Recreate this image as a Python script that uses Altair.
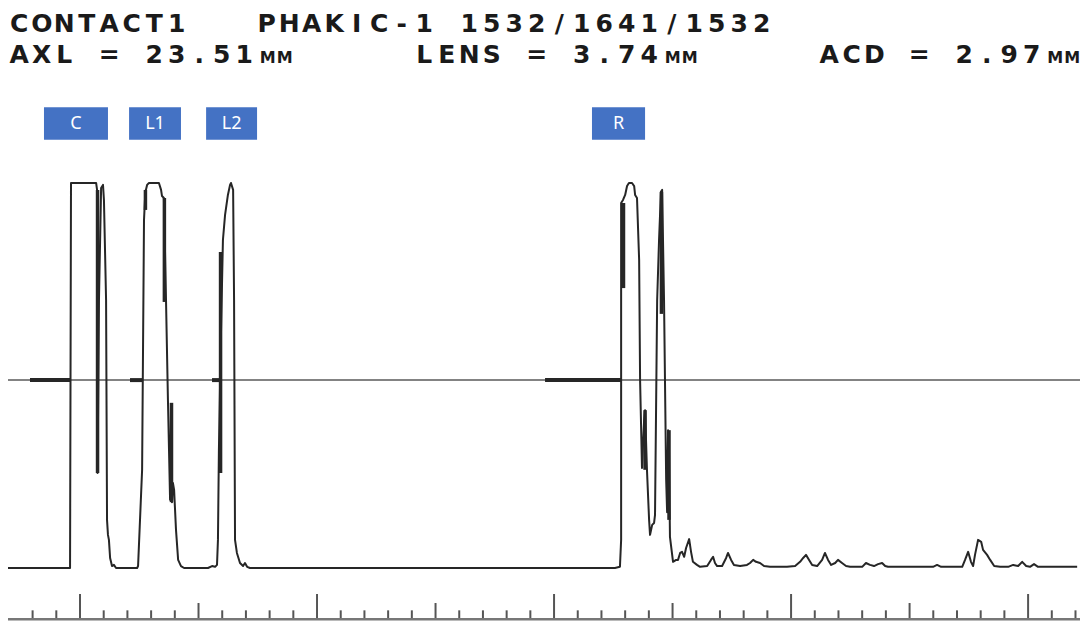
import altair as alt
import pandas as pd

# ---------------- data ----------------
# depth position (ruler units, major tick every 10) and echo amplitude (% of full scale)
trace_pos = [
    -3.04, -0.42, -0.38, 0.68, 0.72, 0.74, 0.80, 0.89, 0.97, 1.01, 1.10, 1.14, 1.18, 1.22, 1.27, 1.35, 1.43, 1.52,
    2.41, 2.45, 2.62, 2.70, 2.74, 2.78, 2.83, 2.91, 3.33, 3.42, 3.46, 3.54, 3.63, 3.71, 3.80, 3.84, 3.88, 3.92,
    3.97, 4.05, 4.14, 4.26, 4.39,
    5.40, 5.57, 5.70, 5.78, 5.82, 5.86, 5.95, 6.03, 6.12, 6.24, 6.33, 6.37, 6.46, 6.50, 6.54, 6.62, 6.75, 6.88,
    6.96, 7.05, 7.17,
    22.57, 22.78, 22.83, 22.83, 22.91, 23.00, 23.08, 23.16, 23.29, 23.38, 23.42, 23.50, 23.59, 23.63, 23.71,
    23.80, 23.84, 23.92, 24.01, 24.05, 24.14, 24.22, 24.26, 24.35, 24.43, 24.51, 24.56, 24.64, 24.73, 24.77,
    24.81, 24.85, 24.89, 25.02, 25.15, 25.23, 25.32, 25.40, 25.49, 25.57, 25.70, 25.78, 25.86, 26.03, 26.16,
    26.46, 26.62, 26.71, 26.79, 26.88, 27.09, 27.26, 27.34, 27.47, 27.59, 27.85, 28.14, 28.27, 28.40, 28.52,
    28.69, 28.86, 29.11, 29.83, 30.17, 30.38, 30.51, 30.63, 30.76, 30.89, 31.10, 31.31, 31.43, 31.56, 31.69,
    31.86, 31.98, 32.15, 32.32, 32.49, 33.00, 33.16, 33.33, 33.50, 33.67, 33.84, 33.97, 34.09, 35.99, 36.16,
    36.33, 37.22, 37.34, 37.47, 37.59, 37.68, 37.76, 37.89, 38.02, 38.10, 38.27, 38.40, 38.57, 38.82, 39.16,
    39.37, 39.58, 39.75, 39.92, 40.08, 40.25, 40.42, 42.07,
]
trace_amp = [
    0, 0, 100, 100, 98.2, 24.7, 69.6, 98.7, 99.5, 95.6, 69.6, 12.5, 8.6, 7.3, 2.6, 0.5, 0.8, 0,
    0, 0.5, 25.5, 90.4, 95.6, 98.2, 99.5, 100, 100, 98.2, 96.6, 96.1, 69.1, 43.6, 17.7, 42.3, 17.1, 22.1,
    20.3, 9.9, 2.1, 0.5, 0,
    0, 0.5, 0.3, 0.8, 7.3, 30.6, 61.8, 85.2, 91.7, 96.9, 99.5, 100, 98.2, 69.6, 7.3, 3.9, 1.3, 0.5,
    1.3, 0.3, 0,
    0, 0.3, 7.3, 94.8, 95.6, 96.9, 99.2, 100, 100, 99.2, 96.9, 96.1, 80.0, 48.8, 26.0,
    38.4, 41.0, 25.5, 12.5, 8.6, 11.2, 11.7, 13.8, 69.6, 85.2, 97.7, 98.2, 69.6, 22.9, 14.5,
    35.8, 30.6, 8.1, 1.6, 2.1, 2.1, 3.9, 4.2, 2.9, 5.2, 7.5, 4.2, 1.6, 0.8, 0.3,
    0.5, 2.1, 2.9, 1.3, 0.5, 0.5, 2.6, 3.9, 2.1, 0.8, 0.5, 0.8, 1.3, 2.1, 1.6,
    1.3, 0.5, 0.3, 0.3, 0.5, 1.6, 2.6, 3.4, 2.1, 0.8, 0.5, 2.1, 3.9, 2.1, 0.8,
    1.3, 2.1, 1.3, 0.5, 0.3, 0.3, 1.3, 0.8, 0.5, 1.0, 1.3, 0.5, 0.3, 0.3, 0.8,
    0.3, 0.3, 2.1, 4.2, 1.6, 0.5, 3.4, 7.3, 6.8, 4.7, 3.4, 2.1, 0.5, 0.3, 0.3,
    0.8, 0.5, 1.6, 0.5, 0.3, 1.0, 0.3, 0.3,
]

# dense (over-drawn) vertical strokes inside the echoes
dense_pos = [0.74, 2.76, 3.56, 3.86, 5.93, 22.93, 23.84, 24.53, 24.85]
dense_top = [98.2, 98.2, 96.1, 42.9, 82.1, 94.8, 41.0, 97.7, 35.8]
dense_bot = [24.7, 93.0, 69.1, 17.1, 24.7, 72.7, 25.5, 66.0, 12.5]

# gates (thick marks on the threshold line)
gate_start = [-2.11, 2.11, 5.57, 19.62]
gate_end = [-0.38, 2.66, 5.99, 22.83]
threshold = 48.8

# echo labels
label_text = ["C", "L1", "L2", "R"]
label_start = [-1.52, 2.07, 5.32, 21.60]
label_end = [1.18, 4.26, 7.47, 23.84]
label_top = 119.7
label_bottom = 111.2

# ruler
ruler_ticks = list(range(-2, 43))
ruler_base = -13.3
tick_top_major = -6.75
tick_top_mid = -9.1
tick_top_minor = -11.0

# header (lower case = printed as small capitals)
header_lines = [
    "CONTACT1   PHAKIC-1 1532/1641/1532",
    "AXL = 23.51mm     LENS = 3.74mm     ACD = 2.97mm",
]

# ---------------- styling / layout ----------------
W, H = 1072, 613
X_DOMAIN = [-3.038, 42.19]
Y_DOMAIN = [-13.77, 145.45]
LINE_END = 42.19
PITCH = 22.5
SMALL_PITCH = 17
BASELINES = [24, 55]
BIG, SMALL = 25, 16
INK = "#262626"

xs = alt.Scale(domain=X_DOMAIN, nice=False, zero=False)
ys = alt.Scale(domain=Y_DOMAIN, nice=False, zero=False)

trace_df = pd.DataFrame({"v": trace_pos, "a": trace_amp, "i": range(len(trace_pos))})
dense_df = pd.DataFrame({"v": dense_pos, "a1": dense_top, "a2": dense_bot})
gate_df = pd.DataFrame({"v1": gate_start, "v2": gate_end, "a": [threshold] * len(gate_start)})
mid_df = pd.DataFrame({"v1": [X_DOMAIN[0]], "v2": [LINE_END], "a": [threshold]})
lab_df = pd.DataFrame({"t": label_text, "v1": label_start, "v2": label_end,
                       "a1": [label_top] * 4, "a2": [label_bottom] * 4})
tick_df = pd.DataFrame({"v": ruler_ticks})
tick_df["top"] = [tick_top_major if t % 10 == 0 else (tick_top_mid if t % 5 == 0 else tick_top_minor)
                  for t in ruler_ticks]
tick_df["base"] = ruler_base
rbase_df = pd.DataFrame({"v1": [X_DOMAIN[0]], "v2": [LINE_END], "a": [ruler_base]})

rows = []
for li, s in enumerate(header_lines):
    run_start, k = None, 0
    for i, ch in enumerate(s):
        small = ch.islower()
        if small:
            if run_start is None:
                run_start, k = i, 0
            cx = run_start * PITCH + PITCH / 2 + 1 + k * SMALL_PITCH
            k += 1
        else:
            run_start = None
            cx = i * PITCH + PITCH / 2
        if ch == " ":
            continue
        rows.append({"cx": cx, "cy": BASELINES[li], "ch": ch.upper(), "fs": SMALL if small else BIG})
head_df = pd.DataFrame(rows)

X = lambda f: alt.X(f, scale=xs, axis=None)
Y = lambda f: alt.Y(f, scale=ys, axis=None)

midline = alt.Chart(mid_df).mark_rule(color="#5a5a5a", strokeWidth=1.5).encode(
    x=X("v1:Q"), x2="v2:Q", y=Y("a:Q"))
gates = alt.Chart(gate_df).mark_rule(color=INK, strokeWidth=4).encode(
    x=X("v1:Q"), x2="v2:Q", y=Y("a:Q"))
trace = alt.Chart(trace_df).mark_line(color=INK, strokeWidth=2, strokeJoin="round").encode(
    x=X("v:Q"), y=Y("a:Q"), order="i:Q")
dense = alt.Chart(dense_df).mark_rule(color=INK, strokeWidth=3.5).encode(
    x=X("v:Q"), y=Y("a1:Q"), y2="a2:Q")
boxes = alt.Chart(lab_df).mark_rect(color="#4472C4").encode(
    x=X("v1:Q"), x2="v2:Q", y=Y("a1:Q"), y2="a2:Q")
labels = alt.Chart(lab_df).transform_calculate(
    vc="(datum.v1 + datum.v2) / 2", ac="(datum.a1 + datum.a2) / 2"
).mark_text(color="white", font="Noto Sans", fontSize=18, baseline="middle", align="center").encode(
    x=X("vc:Q"), y=Y("ac:Q"), text="t:N")
ticks = alt.Chart(tick_df).mark_rule(color="#555555", strokeWidth=2).encode(
    x=X("v:Q"), y=Y("top:Q"), y2="base:Q")
rbase = alt.Chart(rbase_df).mark_rule(color="#777777", strokeWidth=2.5).encode(
    x=X("v1:Q"), x2="v2:Q", y=Y("a:Q"))
header = alt.Chart(head_df).mark_text(font="DejaVu Sans", fontWeight="bold", baseline="alphabetic",
                                      align="center", color="#1a1a1a").encode(
    x=alt.X("cx:Q", scale=None, axis=None),
    y=alt.Y("cy:Q", scale=None, axis=None),
    text="ch:N",
    size=alt.Size("fs:Q", scale=None, legend=None))

chart = alt.layer(midline, gates, trace, dense, boxes, labels, ticks, rbase, header).properties(
    width=W, height=H, padding=0, autosize=alt.AutoSizeParams(type="none"),
    background="white"
).configure_view(strokeWidth=0)

chart.save("out.html", embed_options={"renderer": "svg", "actions": False})
